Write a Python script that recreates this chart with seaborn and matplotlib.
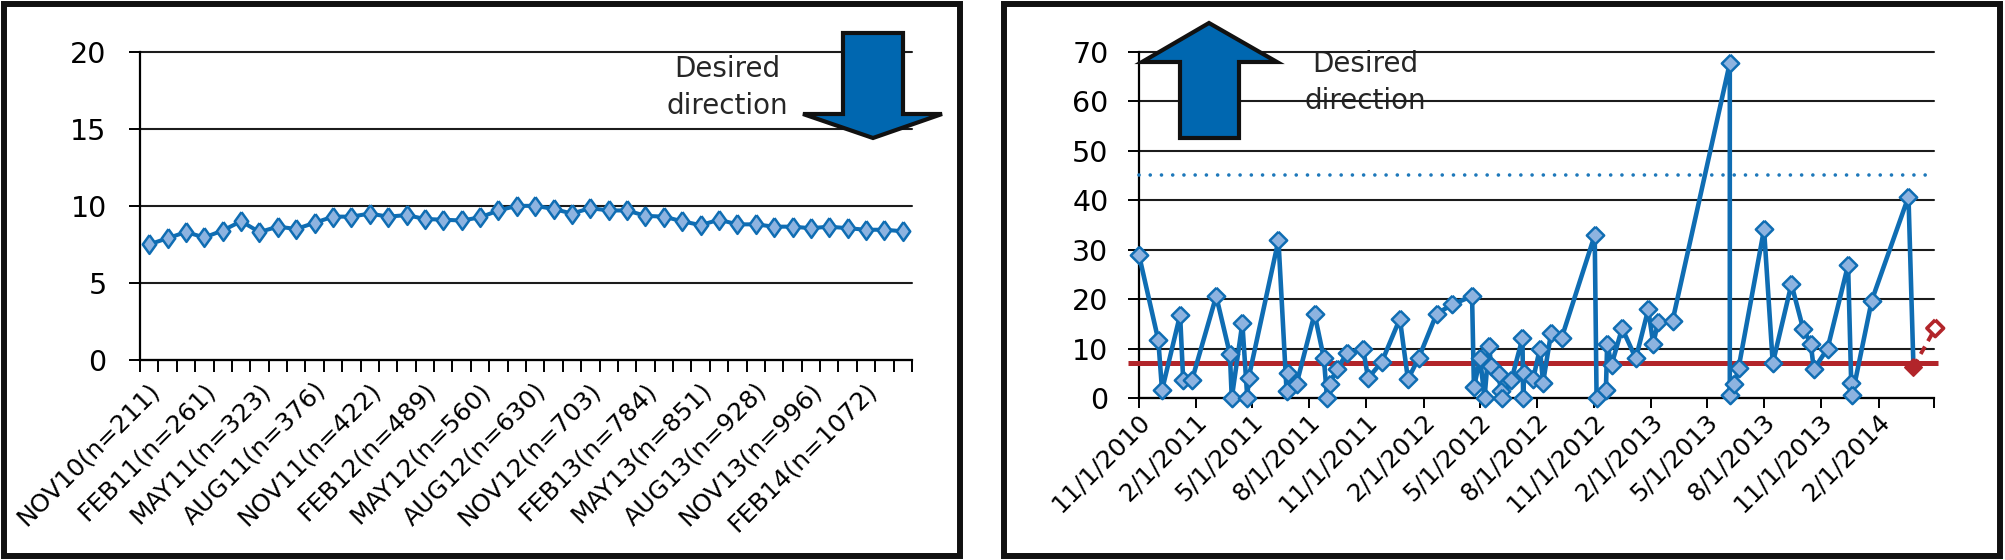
import numpy as np
import pandas as pd
import matplotlib
matplotlib.use("Agg")
import matplotlib.pyplot as plt
import matplotlib.transforms as mtransforms
from matplotlib.patches import Polygon, Rectangle
import seaborn as sns

# ---------------- data ----------------
# Left panel: monthly cumulative rate, Nov 2010 .. Apr 2014 (42 months)
left_values = [7.5, 7.9, 8.3, 7.95, 8.4, 9.0, 8.3, 8.65, 8.5, 8.9,
               9.3, 9.3, 9.5, 9.3, 9.4, 9.15, 9.1, 9.05, 9.25, 9.7,
               10.0, 10.0, 9.8, 9.5, 9.85, 9.7, 9.7, 9.35, 9.3, 9.0,
               8.75, 9.1, 8.8, 8.8, 8.65, 8.65, 8.55, 8.65, 8.55, 8.45,
               8.45, 8.35]
left_tick_labels = ["NOV10(n=211)", "FEB11(n=261)", "MAY11(n=323)", "AUG11(n=376)",
                    "NOV11(n=422)", "FEB12(n=489)", "MAY12(n=560)", "AUG12(n=630)",
                    "NOV12(n=703)", "FEB13(n=784)", "MAY13(n=851)", "AUG13(n=928)",
                    "NOV13(n=996)", "FEB14(n=1072)"]
left_label_step = 3
left_yticks = [0, 5, 10, 15, 20]

# Right panel: individual observations by date
right_dates = ["2010-11-01", "2010-12-02", "2010-12-08", "2011-01-06", "2011-01-11",
               "2011-01-25", "2011-03-05", "2011-03-27", "2011-03-30", "2011-04-16",
               "2011-04-24", "2011-04-26", "2011-06-13", "2011-06-26", "2011-06-29",
               "2011-07-12", "2011-08-10", "2011-08-25", "2011-08-30", "2011-09-03",
               "2011-09-15", "2011-10-01", "2011-10-27", "2011-11-04", "2011-11-26",
               "2011-12-25", "2012-01-07", "2012-01-24", "2012-02-22", "2012-03-18",
               "2012-04-19", "2012-04-22", "2012-05-02", "2012-05-09", "2012-05-16",
               "2012-05-20", "2012-06-01", "2012-06-04", "2012-06-06", "2012-06-21",
               "2012-07-09", "2012-07-10", "2012-07-12", "2012-07-26", "2012-08-06",
               "2012-08-11", "2012-08-24", "2012-09-10", "2012-11-02", "2012-11-05",
               "2012-11-20", "2012-11-22", "2012-11-29", "2012-12-16", "2013-01-07",
               "2013-01-27", "2013-02-04", "2013-02-12", "2013-03-07", "2013-06-07",
               "2013-06-07", "2013-06-14", "2013-06-21", "2013-08-01", "2013-08-15",
               "2013-09-14", "2013-10-03", "2013-10-15", "2013-10-20", "2013-11-11",
               "2013-12-14", "2013-12-19", "2013-12-21", "2014-01-21", "2014-03-21"]
right_values = [28.9, 11.7, 1.6, 16.8, 3.6,
                3.6, 20.6, 8.9, 0.0, 15.1,
                0.0, 4.0, 31.9, 1.5, 5.0,
                2.8, 17.0, 8.0, 0.0, 2.8,
                5.8, 9.0, 10.0, 4.0, 7.3,
                16.0, 3.8, 8.0, 17.0, 18.9,
                20.6, 2.2, 8.0, 0.0, 10.5,
                6.5, 4.8, 1.5, 0.0, 3.6,
                12.1, 0.0, 5.1, 3.8, 10.0,
                3.1, 13.2, 12.2, 32.9, 0.0,
                1.6, 11.0, 6.7, 14.1, 8.0,
                17.9, 11.0, 15.4, 15.6, 67.7,
                0.6, 2.8, 6.0, 34.1, 7.0,
                23.0, 13.9, 11.0, 5.8, 10.0,
                26.9, 3.1, 0.7, 19.7, 40.7]
current_date = "2014-03-29"
current_value = 6.3
projected_date = "2014-05-03"
projected_value = 14.1
target_value = 7
benchmark_value = 45
right_tick_dates = ["2010-11-01", "2011-02-01", "2011-05-01", "2011-08-01", "2011-11-01",
                    "2012-02-01", "2012-05-01", "2012-08-01", "2012-11-01", "2013-02-01",
                    "2013-05-01", "2013-08-01", "2013-11-01", "2014-02-01", "2014-05-01"]
right_tick_labels = ["11/1/2010", "2/1/2011", "5/1/2011", "8/1/2011", "11/1/2011",
                     "2/1/2012", "5/1/2012", "8/1/2012", "11/1/2012", "2/1/2013",
                     "5/1/2013", "8/1/2013", "11/1/2013", "2/1/2014", ""]
right_yticks = [0, 10, 20, 30, 40, 50, 60, 70]
annotation_text = ["Desired", "direction"]

# ---------------- style ----------------
sns.set_theme(style="white")
plt.rcParams["font.family"] = ["DejaVu Sans"]

LINE_BLUE = "#0F6DB3"
FILL_BLUE = "#8DB3E0"
ARROW_BLUE = "#0067B0"
RED = "#B2252A"
GRID = "#1c1c1c"

W, H = 2005, 560
fig = plt.figure(figsize=(W / 100, H / 100), dpi=100)
fig.patch.set_facecolor("white")
pix = mtransforms.Affine2D().scale(1 / W, -1 / H).translate(0, 1) + fig.transFigure

diamond_tall = [(0, 1), (0.72, 0), (0, -1), (-0.72, 0), (0, 1)]
diamond_sq = [(0, 1), (1, 0), (0, -1), (-1, 0), (0, 1)]

def style_axes(ax):
    for s in ["top", "right"]:
        ax.spines[s].set_visible(False)
    for s in ["left", "bottom"]:
        ax.spines[s].set_color("black")
        ax.spines[s].set_linewidth(1.6)
    ax.set_axisbelow(True)
    ax.yaxis.grid(True, color=GRID, lw=1.5)
    ax.xaxis.grid(False)
    ax.tick_params(axis="y", length=8, width=1.4, color="black", pad=14,
                   labelsize=20.5, labelcolor="black", left=True)
    for gl in ax.get_ygridlines():
        gl.set_clip_on(False)
    ax.set_xlabel("")
    ax.set_ylabel("")

# ---------------- left panel ----------------
ax1 = fig.add_axes([140 / W, 1 - 360 / H, 772 / W, (360 - 51.7) / H])
months = np.arange(len(left_values))
sns.lineplot(x=months, y=left_values, ax=ax1, color=LINE_BLUE, lw=2.9,
             marker=diamond_tall, markersize=13.5, markerfacecolor=FILL_BLUE,
             markeredgecolor=LINE_BLUE, markeredgewidth=1.8, clip_on=False, zorder=3)
ax1.set_xlim(-0.5, len(left_values) - 0.5)
ax1.set_ylim(0, 20)
ax1.set_yticks(left_yticks)
style_axes(ax1)
ax1.tick_params(axis="y", pad=16)
ax1.set_xticks(np.arange(-0.5, len(left_values), 1))
ax1.set_xticklabels([])
ax1.tick_params(axis="x", which="major", length=8.5, width=1.4, color="black", bottom=True)
ax1.set_xticks(months[::left_label_step], left_tick_labels, minor=True)
ax1.tick_params(axis="x", which="minor", length=0, pad=19, labelsize=18, labelcolor="black")
for lab in ax1.get_xticklabels(minor=True):
    lab.set_rotation(45)
    lab.set_ha("right")
    lab.set_va("center")
    lab.set_rotation_mode("anchor")

ax1.text(727 / W, 1 - 77 / H, annotation_text[0], transform=fig.transFigure,
         ha="center", va="baseline", fontsize=20, zorder=0.3)
ax1.text(727 / W, 1 - 114 / H, annotation_text[1], transform=fig.transFigure,
         ha="center", va="baseline", fontsize=20, zorder=0.3)

# ---------------- right panel ----------------
ax2 = fig.add_axes([1139 / W, 1 - 398 / H, 795 / W, (398 - 51.7) / H])
all_dates = pd.to_datetime(right_dates + [current_date])
all_vals = right_values + [current_value]
sns.lineplot(x=all_dates, y=all_vals, ax=ax2, sort=False, estimator=None,
             color=LINE_BLUE, lw=3.3, marker=diamond_sq, markersize=12.5,
             markerfacecolor=FILL_BLUE, markeredgecolor=LINE_BLUE, markeredgewidth=1.8,
             markevery=list(range(len(right_dates))), clip_on=False, zorder=3)
# projection (dashed red) to the open diamond
sns.lineplot(x=pd.to_datetime([current_date, projected_date]),
             y=[current_value, projected_value], ax=ax2, sort=False, estimator=None,
             color=RED, lw=2.8, linestyle=(0, (2.2, 1.6)), clip_on=False, zorder=4)
sns.scatterplot(x=pd.to_datetime([current_date]), y=[current_value], ax=ax2,
                marker=diamond_sq, s=12.5 ** 2, color=RED, edgecolor=RED, linewidth=1.2,
                clip_on=False, zorder=5)
sns.scatterplot(x=pd.to_datetime([projected_date]), y=[projected_value], ax=ax2,
                marker=diamond_sq, s=12 ** 2, facecolor="none", edgecolor=RED,
                linewidth=2.6, clip_on=False, zorder=5)

ax2.set_xlim(pd.Timestamp(right_tick_dates[0]), pd.Timestamp(right_tick_dates[-1]))
ax2.set_ylim(0, 70)
ax2.set_yticks(right_yticks)
style_axes(ax2)

blend = mtransforms.blended_transform_factory(ax2.transAxes, ax2.transData)
ax2.plot([-11 / 795, 1 + 4 / 795], [target_value, target_value], transform=blend,
         color=RED, lw=3.6, clip_on=False, zorder=2.6, solid_capstyle="butt")
ax2.plot([0, 1], [benchmark_value, benchmark_value], transform=blend,
         color="#1D78BA", lw=2.6, linestyle=(0, (0.01, 3.1)), dash_capstyle="round",
         clip_on=False, zorder=2.6)

ax2.set_xticks(pd.to_datetime(right_tick_dates), right_tick_labels)
ax2.tick_params(axis="x", which="major", length=7.5, width=1.4, color="black",
                pad=7, labelsize=18, labelcolor="black", bottom=True)
for lab in ax2.get_xticklabels():
    lab.set_rotation(45)
    lab.set_ha("right")
    lab.set_va("center")
    lab.set_rotation_mode("anchor")

ax2.text(1365 / W, 1 - 72 / H, annotation_text[0], transform=fig.transFigure,
         ha="center", va="baseline", fontsize=20, zorder=0.3)
ax2.text(1365 / W, 1 - 109 / H, annotation_text[1], transform=fig.transFigure,
         ha="center", va="baseline", fontsize=20, zorder=0.3)

# ---------------- block arrows ----------------
down_arrow = [(843, 33), (903, 33), (903, 114), (942, 114), (873, 138),
              (803, 114), (843, 114)]
up_arrow = [(1209, 23), (1277, 62), (1239, 62), (1239, 138), (1180, 138),
            (1180, 62), (1142, 62)]
for pts in (down_arrow, up_arrow):
    fig.patches.append(Polygon(pts, closed=True, transform=pix, facecolor=ARROW_BLUE,
                               edgecolor="#111111", lw=3.0, joinstyle="miter", zorder=5))

# ---------------- panel frames ----------------
for (x0, y0, x1, y1) in [(4, 4, 960, 556), (1004, 4, 2000, 556)]:
    fig.patches.append(Rectangle((x0, y1), x1 - x0, y0 - y1, transform=pix, fill=False,
                                 edgecolor="#111111", lw=4.3, zorder=6))

# nudge rotated tick labels slightly right, as in the original layout
fig.canvas.draw()
shift = mtransforms.ScaledTranslation(7 / 100, 0, fig.dpi_scale_trans)
for lab in ax1.get_xticklabels(minor=True) + ax2.get_xticklabels():
    lab.set_transform(lab.get_transform() + shift)

fig.savefig("out.png", dpi=100, facecolor="white")
